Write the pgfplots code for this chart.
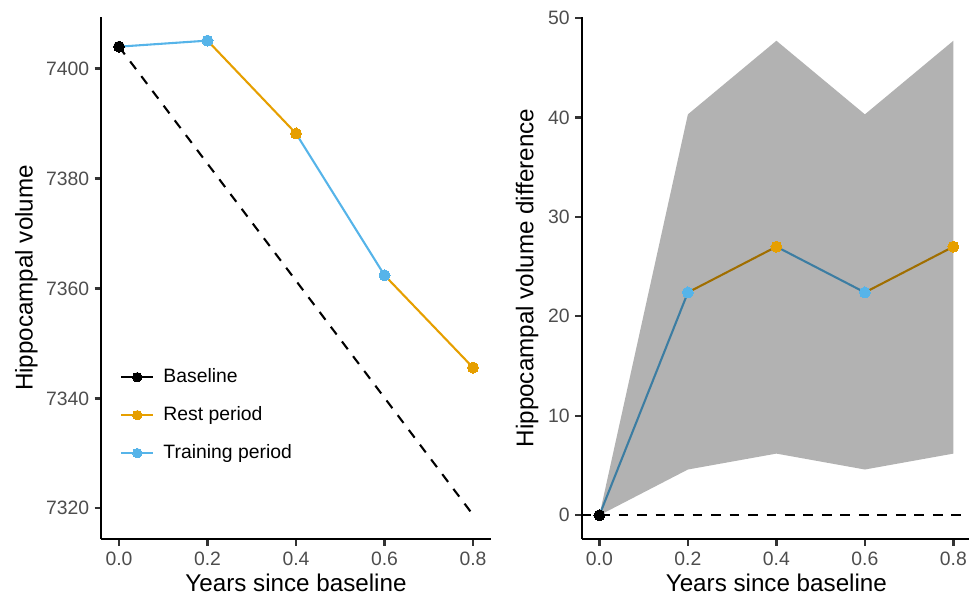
\documentclass[border=0pt]{standalone}
\usepackage{fontspec}
\setmainfont{Liberation Sans}
\usepackage{pgfplots}
\pgfplotsset{compat=1.18}
\definecolor{restc}{HTML}{E69F00}
\definecolor{trainc}{HTML}{56B4E9}
\definecolor{ticklab}{HTML}{4D4D4D}
\definecolor{tickc}{HTML}{333333}

\pgfplotsset{
  ggstyle/.style={
    scale only axis, width=177pt, height=237.27pt,
    axis x line=bottom, axis y line=left,
    axis line style={-, black, line width=1.07pt},
    tick align=outside, major tick length=3pt,
    tick style={tickc, line width=1.07pt},
    tick label style={ticklab, font=\fontsize{8.8}{10}\selectfont},
    xticklabel style={inner sep=0pt}, yticklabel style={inner sep=0pt},
    xticklabel shift=2.7pt, yticklabel shift=2.3pt,
    /pgf/number format/assume math mode=true,
    /pgf/number format/1000 sep={},
    xmin=-0.04, xmax=0.84,
    xtick={0,0.2,0.4,0.6,0.8}, xticklabels={0.0,0.2,0.4,0.6,0.8},
    label style={font=\fontsize{11}{13}\selectfont, black},
    xlabel={Years since baseline},
    xlabel style={at={(axis description cs:0.5,0)}, anchor=base, yshift=-23.95pt},
    clip=false,
    anchor=south west,
  },
  ln/.style={line width=0.95pt, forget plot},
  dotp/.style={only marks, mark=*, mark size=2.5pt, forget plot, mark options={fill=#1, draw=#1, line width=0pt}},
}

\begin{document}
\begin{tikzpicture}
\useasboundingbox (0,0) rectangle (440.45pt,270.45pt);

% ---------------- Left panel ----------------
\begin{axis}[ggstyle, at={(46.05pt,25.45pt)},
  ymin=7314.4, ymax=7409.4, ytick={7320,7340,7360,7380,7400},
  ylabel={Hippocampal volume},
  ylabel style={at={(axis description cs:-0.1763,0.5)}, anchor=base},
  legend image code/.code={\draw[mark repeat=2,mark phase=2,#1] plot coordinates {(0pt,0pt) (7.2pt,0pt) (14.4pt,0pt)};},
  legend style={at={(axis description cs:0.048,0.2372)}, anchor=west, draw=none, fill=none,
    inner sep=0pt, font=\fontsize{8.8}{10}\selectfont, row sep=8.75pt, column sep=4.2pt,
    nodes={inner sep=0pt, text height=6.5pt, text depth=2pt}},
  legend cell align=left,
]
\addplot[ln, black, dash pattern=on 4.4pt off 4pt] coordinates {(0,7404.0) (0.8,7318.8)};
\addplot[ln, trainc] coordinates {(0,7404.0) (0.2,7405.1)};
\addplot[ln, restc] coordinates {(0.2,7405.1) (0.4,7388.2)};
\addplot[ln, trainc] coordinates {(0.4,7388.2) (0.6,7362.4)};
\addplot[ln, restc] coordinates {(0.6,7362.4) (0.8,7345.6)};
\addplot[dotp=black] coordinates {(0,7404.0)};
\addplot[dotp=trainc] coordinates {(0.2,7405.1) (0.6,7362.4)};
\addplot[dotp=restc] coordinates {(0.4,7388.2) (0.8,7345.6)};
\addlegendimage{black, line width=0.95pt, mark=*, mark size=2.15pt, mark options={solid, line width=0pt}}
\addlegendentry{Baseline}
\addlegendimage{restc, line width=0.95pt, mark=*, mark size=2.15pt, mark options={solid, line width=0pt}}
\addlegendentry{Rest period}
\addlegendimage{trainc, line width=0.95pt, mark=*, mark size=2.15pt, mark options={solid, line width=0pt}}
\addlegendentry{Training period}
\end{axis}

% ---------------- Right panel ----------------
\begin{axis}[ggstyle, at={(264.4pt,25.45pt)},
  ymin=-2.385, ymax=50.085, ytick={0,10,20,30,40,50},
  ylabel={Hippocampal volume difference},
  ylabel style={at={(axis description cs:-0.1243,0.5)}, anchor=base},
]
\addplot[ln, black, dash pattern=on 4.4pt off 4pt] coordinates {(-0.04,0) (0.84,0)};
\addplot[ln, trainc] coordinates {(0,0) (0.2,22.4)};
\addplot[ln, restc] coordinates {(0.2,22.4) (0.4,27.0)};
\addplot[ln, trainc] coordinates {(0.4,27.0) (0.6,22.4)};
\addplot[ln, restc] coordinates {(0.6,22.4) (0.8,27.0)};
\addplot[forget plot, draw=none, fill=black, fill opacity=0.3] coordinates {
  (0,0) (0.2,40.3) (0.4,47.7) (0.6,40.3) (0.8,47.7)
  (0.8,6.2) (0.6,4.6) (0.4,6.2) (0.2,4.6) (0,0)} -- cycle;
\addplot[dotp=trainc] coordinates {(0.2,22.4) (0.6,22.4)};
\addplot[dotp=restc] coordinates {(0.4,27.0) (0.8,27.0)};
\addplot[dotp=black] coordinates {(0,0)};
\end{axis}
\end{tikzpicture}
\end{document}
